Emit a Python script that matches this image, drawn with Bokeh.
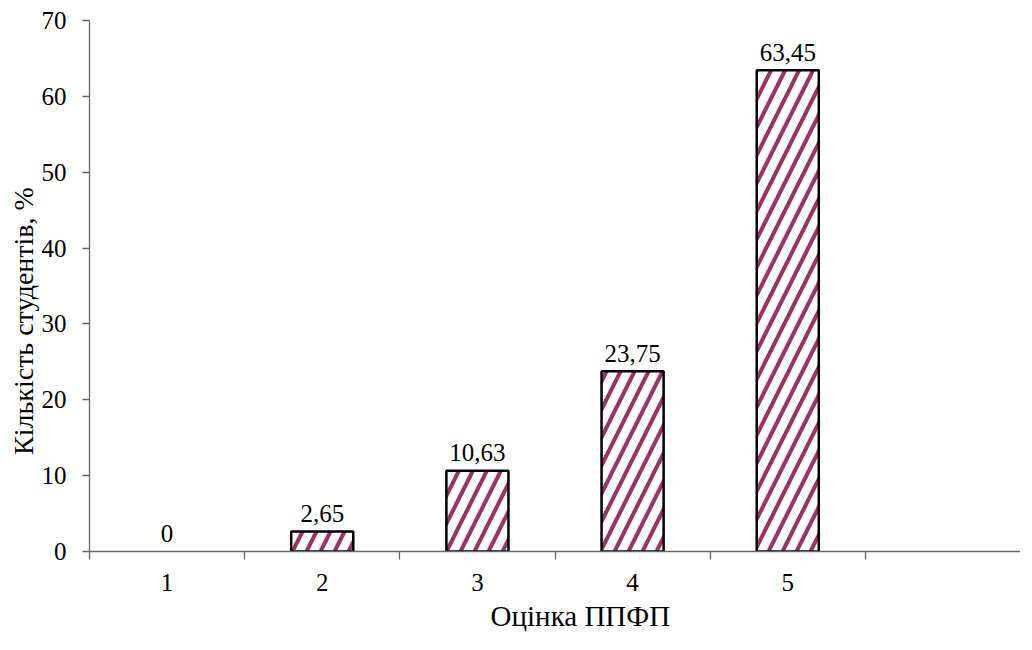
from bokeh.plotting import figure
from bokeh.models import ColumnDataSource, Range1d, FixedTicker, CDSView, BooleanFilter
from bokeh.core.properties import value
from bokeh.embed import file_html
from bokeh.resources import INLINE

categories = [1, 2, 3, 4, 5]
shares = [0, 2.65, 10.63, 23.75, 63.45]
share_labels = ["0", "2,65", "10,63", "23,75", "63,45"]
x_tick_labels = {1: "1", 2: "2", 3: "3", 4: "4", 5: "5"}
y_ticks = [0, 10, 20, 30, 40, 50, 60, 70]
x_title = "Оцінка ППФП"
y_title = "Кількість студентів, %"

FONT = "Liberation Serif"
NUM_SIZE = "25px"

src = ColumnDataSource(dict(x=categories, top=shares, label=share_labels))
view = CDSView(filter=BooleanFilter([v > 0 for v in shares]))

p = figure(width=1020, height=634, output_backend="svg", toolbar_location=None,
           x_range=Range1d(0.5, 6.5), y_range=Range1d(0, 70),
           min_border_left=89, min_border_top=20, min_border_right=0, min_border_bottom=0)
p.outline_line_color = None
p.xgrid.visible = False
p.ygrid.visible = False
p.background_fill_color = "white"

p.vbar(x="x", top="top", bottom=0, width=0.4, source=src, view=view,
       fill_color="white", hatch_pattern="/", hatch_color="#993366",
       hatch_scale=28, hatch_weight=4, line_color="black", line_width=2.5)

p.text(x="x", y="top", text="label", source=src, text_align="center",
       text_baseline="alphabetic", y_offset=-18, text_font=value(FONT),
       text_font_size=NUM_SIZE, text_color="black")

axis_color = "#666666"

xa = p.xaxis[0]
xa.ticker = FixedTicker(ticks=categories, minor_ticks=[0.5, 1.5, 2.5, 3.5, 4.5, 5.5])
xa.major_label_overrides = x_tick_labels
xa.major_tick_in = 0
xa.major_tick_out = 0
xa.minor_tick_in = 0
xa.minor_tick_out = 8
xa.minor_tick_line_color = axis_color
xa.minor_tick_line_width = 1.3
xa.axis_line_color = axis_color
xa.axis_line_width = 1.3
xa.major_label_text_font = FONT
xa.major_label_text_font_size = NUM_SIZE
xa.major_label_text_color = "black"
xa.major_label_text_line_height = 1.0
xa.major_label_standoff = 14
# leading no-break spaces move the title right, as in the reference
xa.axis_label = "\u00a0" * 7 + x_title
xa.axis_label_text_font = FONT
xa.axis_label_text_font_size = "29px"
xa.axis_label_text_font_style = "normal"
xa.axis_label_text_color = "black"
xa.axis_label_text_line_height = 1.0
xa.axis_label_standoff = 6

ya = p.yaxis[0]
ya.ticker = FixedTicker(ticks=y_ticks)
ya.major_tick_in = 0
ya.major_tick_out = 7
ya.minor_tick_line_color = None
ya.major_tick_line_color = axis_color
ya.major_tick_line_width = 1.3
ya.axis_line_color = axis_color
ya.axis_line_width = 1.3
ya.major_label_text_font = FONT
ya.major_label_text_font_size = NUM_SIZE
ya.major_label_text_color = "black"
ya.major_label_standoff = 16
# trailing no-break spaces shift the rotated title down, as in the reference
ya.axis_label = y_title + "\u00a0" * 10
ya.axis_label_text_font = FONT
ya.axis_label_text_font_size = "28px"
ya.axis_label_text_font_style = "normal"
ya.axis_label_text_color = "black"
ya.axis_label_text_line_height = 1.0
ya.axis_label_standoff = 0

open("out.html", "w").write(file_html(p, INLINE))
